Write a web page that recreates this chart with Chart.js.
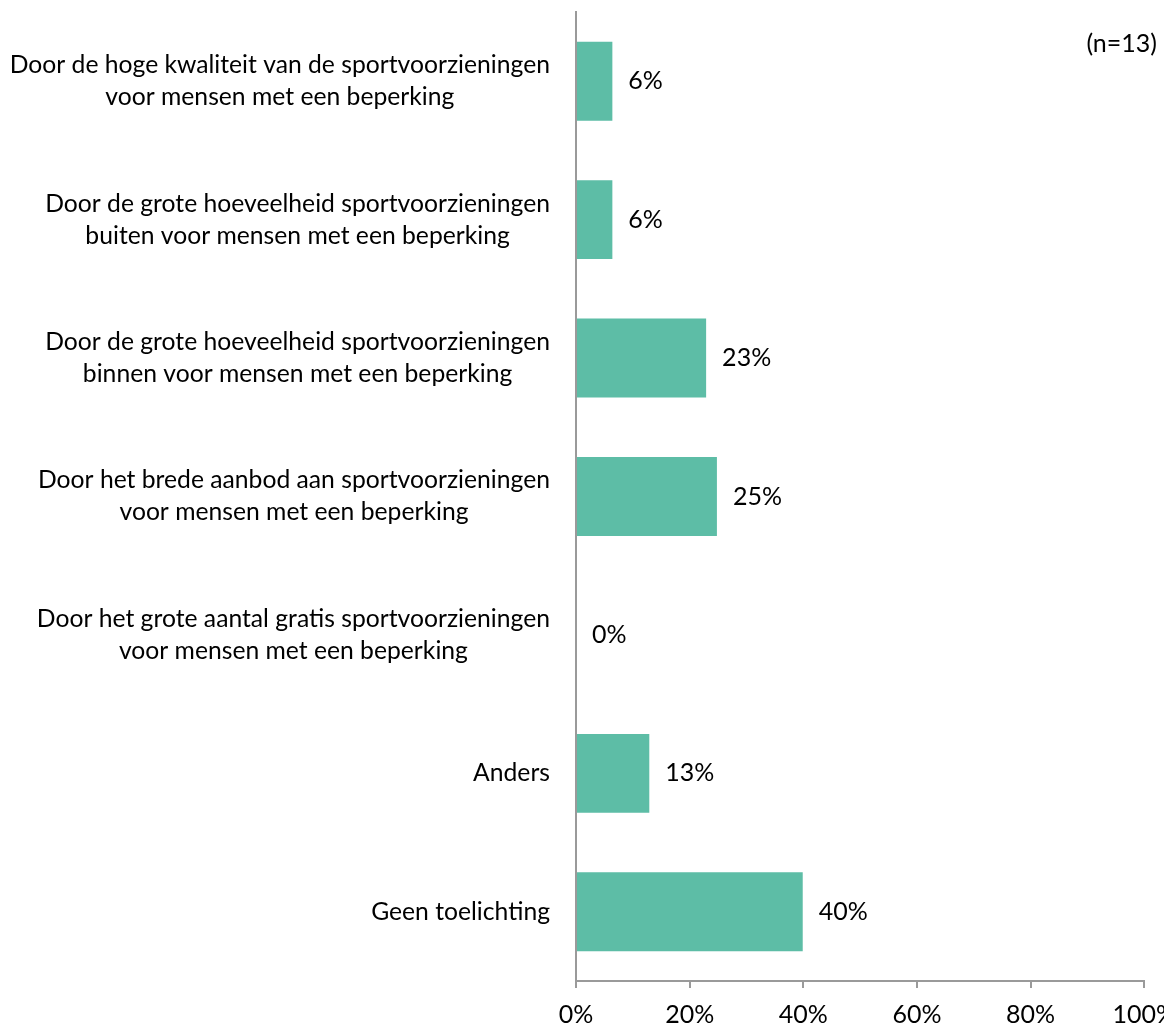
<!DOCTYPE html>
<html>
<head>
<meta charset="utf-8">
<script src="https://cdn.jsdelivr.net/npm/chart.js@4.4.1/dist/chart.umd.min.js"></script>
<style>
	html, body { margin: 0; padding: 0; background: #fff; overflow: hidden; }
	#wrap { width: 1188px; height: 1042px; position: relative; }
</style>
</head>
<body>
<div id="wrap"><canvas id="reasonChart"></canvas></div>
<script>
const categories = [
	["Door de hoge kwaliteit van de sportvoorzieningen", "voor mensen met een beperking"],
	["Door de grote hoeveelheid sportvoorzieningen", "buiten voor mensen met een beperking"],
	["Door de grote hoeveelheid sportvoorzieningen", "binnen voor mensen met een beperking"],
	["Door het brede aanbod aan sportvoorzieningen", "voor mensen met een beperking"],
	["Door het grote aantal gratis sportvoorzieningen", "voor mensen met een beperking"],
	["Anders"],
	["Geen toelichting"]
];
const shares = [6.4, 6.4, 22.9, 24.8, 0, 12.9, 39.9];
const xTicks = [0, 20, 40, 60, 80, 100];
const sampleNote = "(n=13)";

const FONT = "Lato, 'Open Sans', sans-serif";
const FONT_SIZE = 25;
const BAR = "#5dbda6";
const AXIS = "#9a9a9a";

// category labels: block right-aligned next to the axis, lines centred within the block
const categoryLabels = {
	id: 'categoryLabels',
	afterDraw(chart) {
		const ctx = chart.ctx;
		const y = chart.scales.y;
		const right = chart.chartArea.left - 26;
		ctx.save();
		ctx.font = "24.7px " + FONT;
		ctx.fillStyle = "#000";
		ctx.textBaseline = "middle";
		ctx.textAlign = "center";
		categories.forEach((lines, i) => {
			const widths = lines.map(l => ctx.measureText(l).width);
			const blockW = Math.max(...widths);
			const cx = right - blockW / 2;
			const cy = y.getPixelForValue(i);
			const lh = 32;
			lines.forEach((l, j) => {
				ctx.fillText(l, cx, cy + (j - (lines.length - 1) / 2) * lh);
			});
		});
		ctx.restore();
	}
};

// value labels after each bar, plus the sample size note
const valueLabels = {
	id: 'valueLabels',
	afterDatasetsDraw(chart) {
		const ctx = chart.ctx;
		const meta = chart.getDatasetMeta(0);
		ctx.save();
		ctx.font = FONT_SIZE + "px " + FONT;
		ctx.fillStyle = "#000";
		ctx.textBaseline = "middle";
		ctx.textAlign = "left";
		meta.data.forEach((bar, i) => {
			ctx.fillText(Math.round(shares[i]) + "%", bar.x + 16, bar.y);
		});
		ctx.textAlign = "right";
		ctx.fillText(sampleNote, 1157, 44);
		ctx.restore();
	}
};

const ctx = document.getElementById('reasonChart').getContext('2d');
new Chart(ctx, {
	type: 'bar',
	data: {
		labels: categories,
		datasets: [{
			data: shares,
			backgroundColor: BAR,
			borderWidth: 0,
			categoryPercentage: 1,
			barPercentage: 0.57,
		}],
	},
	options: {
		indexAxis: 'y',
		responsive: true,
		maintainAspectRatio: false,
		animation: false,
		layout: { padding: { top: 12, left: 0, right: 0, bottom: 0 } },
		plugins: {
			legend: { display: false },
			tooltip: { enabled: false },
		},
		scales: {
			y: {
				grid: { display: false },
				border: { display: true, color: AXIS, width: 2 },
				ticks: { display: false },
				afterFit(scale) { scale.width = 576; },
			},
			x: {
				min: 0,
				max: 100,
				afterBuildTicks(scale) {
					scale.ticks = xTicks.map(v => ({ value: v }));
				},
				grid: {
					drawOnChartArea: false,
					drawTicks: true,
					tickLength: 7,
					color: AXIS,
					lineWidth: 2,
				},
				border: { display: true, color: AXIS, width: 2 },
				ticks: {
					color: "#000",
					font: { family: FONT, size: FONT_SIZE },
					padding: 12,
					maxRotation: 0,
					callback: v => v + "%",
				},
			},
		},
	},
	plugins: [categoryLabels, valueLabels],
});
</script>
</body>
</html>
